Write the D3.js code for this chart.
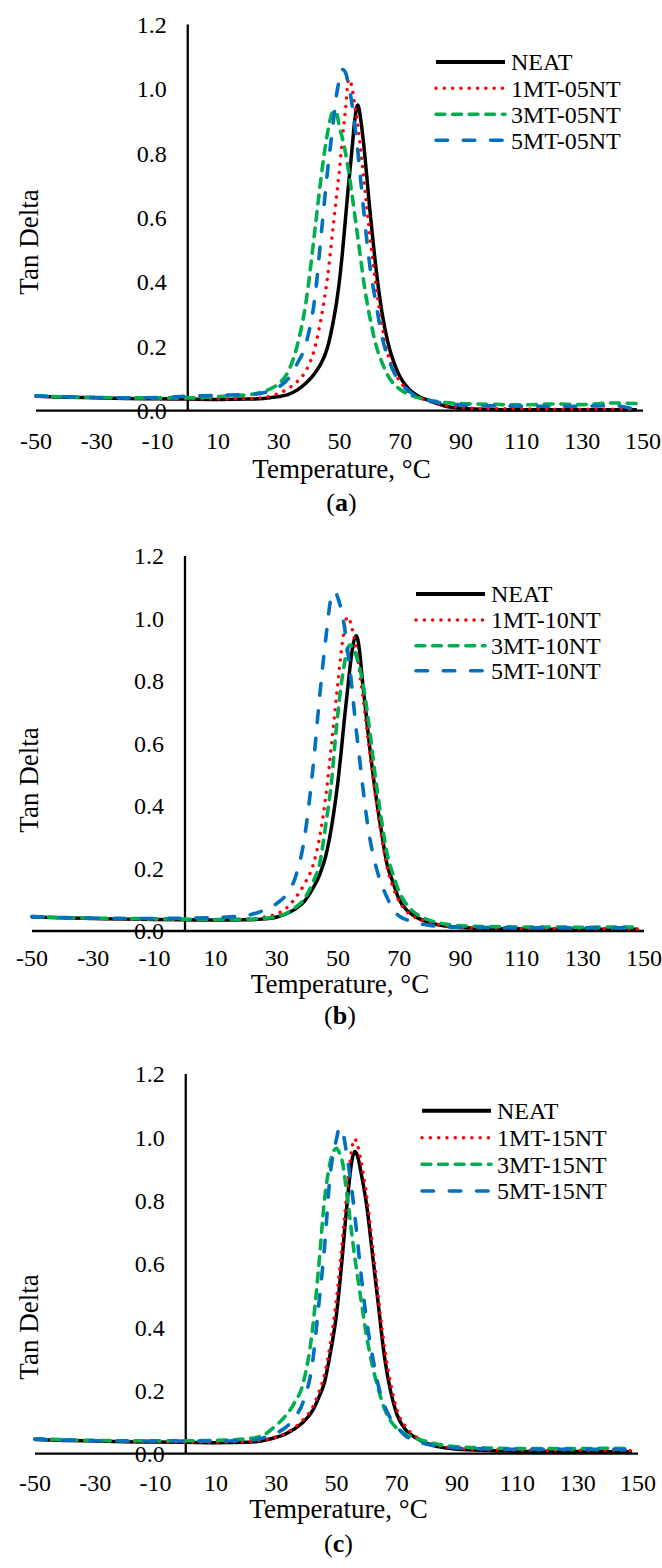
<!DOCTYPE html>
<html>
<head>
<meta charset="utf-8">
<script src="https://cdn.jsdelivr.net/npm/d3@7/dist/d3.min.js"></script>
<style>
  html, body { margin: 0; padding: 0; background: #ffffff; }
  svg { display: block; }
  text { font-family: "Liberation Serif", "Times New Roman", Times, serif; fill: #000; }
</style>
</head>
<body>
<svg id="chart" width="662" height="1568"></svg>
<script>
// ---------------- DATA ----------------
const temperatures = [-50,-40,-30,-20,-10,0,10,20,25,30,33,36,39,42,44,46,48,49,50,51,52,53,54,55,56,57,58,60,62,64,66,68,70,73,76,80,85,90,100,110,120,130,140,148];

const xTicks = [-50,-30,-10,10,30,50,70,90,110,130,150];
const yTicks = [0,0.2,0.4,0.6,0.8,1.0,1.2];

const panelLabels = ["a","b","c"];
const seriesNamesA = ["NEAT","1MT-05NT","3MT-05NT","5MT-05NT"];
const seriesNamesB = ["NEAT","1MT-10NT","3MT-10NT","5MT-10NT"];
const seriesNamesC = ["NEAT","1MT-15NT","3MT-15NT","5MT-15NT"];

// Panel (a)
const neatA  = [.045,.042,.040,.038,.037,.036,.035,.036,.038,.044,.050,.064,.086,.118,.148,.195,.280,.335,.405,.495,.600,.705,.800,.900,.950,.905,.825,.625,.445,.305,.210,.148,.104,.066,.045,.030,.014,.008,.004,.003,.003,.003,.003,.003];
const mt1A   = [.045,.042,.040,.038,.037,.036,.036,.038,.041,.054,.068,.090,.125,.200,.290,.410,.580,.665,.750,.850,.940,1.030,1.010,.950,.890,.810,.720,.545,.390,.265,.175,.122,.090,.058,.042,.028,.016,.010,.006,.006,.005,.005,.005,.004];
const mt3A   = [.046,.043,.041,.040,.040,.040,.044,.050,.060,.085,.120,.200,.340,.570,.730,.860,.930,.925,.880,.845,.800,.745,.680,.610,.540,.470,.400,.290,.205,.150,.108,.082,.066,.050,.040,.032,.025,.022,.020,.018,.021,.019,.024,.022];
const mt5A   = [.046,.043,.041,.040,.041,.045,.048,.050,.056,.074,.098,.145,.210,.360,.550,.740,.900,.980,1.030,1.060,1.050,1.010,.960,.890,.810,.715,.620,.450,.335,.230,.165,.118,.088,.060,.042,.030,.022,.018,.015,.014,.014,.014,.016,.002];

// Panel (b)
const neatB  = [.045,.042,.040,.038,.037,.036,.035,.036,.038,.045,.055,.070,.095,.140,.180,.240,.340,.405,.480,.570,.670,.760,.850,.920,.945,.900,.800,.620,.460,.330,.215,.155,.100,.062,.042,.027,.016,.011,.008,.007,.006,.006,.006,.006];
const mt1B   = [.045,.042,.040,.038,.037,.036,.036,.038,.043,.055,.072,.105,.150,.215,.300,.430,.610,.705,.800,.890,.960,1.005,.990,.950,.900,.830,.760,.600,.450,.315,.205,.140,.095,.057,.040,.026,.016,.012,.009,.008,.008,.007,.007,.006];
const mt3B   = [.046,.043,.041,.040,.039,.038,.037,.038,.040,.046,.056,.075,.103,.160,.215,.340,.490,.600,.700,.785,.850,.900,.915,.905,.880,.845,.800,.670,.510,.370,.250,.180,.125,.078,.052,.034,.022,.017,.014,.013,.013,.012,.013,.012];
const mt5B   = [.046,.043,.041,.040,.040,.041,.043,.050,.063,.088,.115,.170,.295,.540,.750,.935,1.075,1.085,1.065,1.030,.980,.910,.830,.735,.640,.555,.470,.320,.222,.155,.108,.068,.048,.034,.025,.018,.014,.012,.011,.010,.010,.010,.010,.010];

// Panel (c)
const neatC  = [.045,.042,.040,.038,.037,.036,.035,.036,.040,.052,.062,.078,.100,.135,.175,.225,.320,.375,.440,.530,.630,.740,.840,.920,.955,.940,.895,.785,.625,.460,.300,.195,.125,.075,.052,.033,.020,.014,.010,.008,.007,.007,.006,.006];
const mt1C   = [.045,.042,.040,.038,.037,.036,.036,.038,.042,.053,.064,.082,.108,.145,.190,.250,.350,.415,.490,.580,.680,.780,.880,.960,.995,.975,.930,.815,.655,.485,.330,.220,.140,.084,.056,.036,.023,.017,.012,.011,.010,.010,.010,.010];
const mt3C   = [.047,.044,.042,.041,.041,.041,.042,.047,.055,.090,.118,.160,.225,.390,.580,.800,.925,.955,.965,.950,.920,.855,.780,.700,.625,.560,.495,.370,.275,.200,.140,.103,.080,.062,.050,.038,.027,.022,.018,.016,.016,.016,.017,.016];
const mt5C   = [.046,.043,.041,.040,.040,.040,.040,.042,.048,.065,.082,.112,.165,.285,.460,.650,.890,.950,.995,1.030,1.020,.970,.910,.840,.760,.670,.580,.420,.305,.210,.150,.110,.085,.056,.042,.030,.022,.018,.015,.014,.014,.014,.014,.012];

// ---------------- STYLES / LAYOUT ----------------
const seriesStyles = [
  { color: "#000000", width: 3.5, dash: null,        cap: "butt"  },
  { color: "#FF0000", width: 3.4, dash: "0.1 8.2",   cap: "round" },
  { color: "#00B050", width: 3.6, dash: "8.8 7.8",   cap: "round" },
  { color: "#0070C0", width: 3.6, dash: "11.5 15.8", cap: "round" }
];

const panels = [
  { label: panelLabels[0], names: seriesNamesA, data: [neatA, mt1A, mt3A, mt5A],
    xr: [36, 643], yr: [410.7, 24.5], legX: 436, legRows: [62, 88.3, 114.3, 140.3], titleY: 242,
    offs: [29.5, 58, 91] },
  { label: panelLabels[1], names: seriesNamesB, data: [neatB, mt1B, mt3B, mt5B],
    xr: [32, 644], yr: [931, 556], legX: 416, legRows: [594, 620, 645.7, 670.7], titleY: 780,
    offs: [27, 53, 84] },
  { label: panelLabels[2], names: seriesNamesC, data: [neatC, mt1C, mt3C, mt5C],
    xr: [35, 638], yr: [1453.7, 1074], legX: 422, legRows: [1110.7, 1137.7, 1164.3, 1191], titleY: 1327,
    offs: [28.5, 55, 89] }
];

const svg = d3.select("#chart");
const fmt = d3.format(".1f");

panels.forEach(p => {
  const x = d3.scaleLinear().domain([-50, 150]).range(p.xr);
  const y = d3.scaleLinear().domain([0, 1.2]).range(p.yr);
  const g = svg.append("g");
  const x0 = x(0);

  // y tick labels
  g.selectAll(".ytl").data(yTicks).enter().append("text")
    .attr("x", x0 - 21).attr("y", d => y(d)).attr("dy", "0.35em")
    .attr("text-anchor", "end").style("font-size", "24px").text(d => fmt(d));

  // x tick labels
  g.selectAll(".xtl").data(xTicks).enter().append("text")
    .attr("x", d => x(d)).attr("y", y(0) + p.offs[0]).attr("dy", "0.35em")
    .attr("text-anchor", "middle").style("font-size", "24px").text(d => d);

  // axis lines
  g.append("line").attr("x1", p.xr[0]).attr("x2", p.xr[1])
    .attr("y1", y(0)).attr("y2", y(0)).attr("stroke", "#000").attr("stroke-width", 2.3);
  g.append("line").attr("x1", x0).attr("x2", x0)
    .attr("y1", y(0)).attr("y2", y(1.2)).attr("stroke", "#000").attr("stroke-width", 2.3);

  // series
  const line = d3.line().x(d => x(d[0])).y(d => y(d[1])).curve(d3.curveMonotoneX);
  p.data.forEach((vals, i) => {
    const st = seriesStyles[i];
    const pts = temperatures.map((t, k) => [t, vals[k]]).filter(d => d[1] !== undefined);
    g.append("path").datum(pts).attr("d", line)
      .attr("fill", "none").attr("stroke", st.color).attr("stroke-width", st.width)
      .attr("stroke-linecap", st.cap).attr("stroke-linejoin", "round")
      .attr("stroke-dasharray", st.dash);
  });

  // legend
  p.names.forEach((name, i) => {
    const st = seriesStyles[i];
    const ry = p.legRows[i];
    g.append("line").attr("x1", p.legX).attr("x2", p.legX + 69)
      .attr("y1", ry).attr("y2", ry)
      .attr("stroke", st.color).attr("stroke-width", i === 0 ? 4 : st.width)
      .attr("stroke-linecap", st.cap).attr("stroke-dasharray", st.dash);
    g.append("text").attr("x", p.legX + 75).attr("y", ry).attr("dy", "0.35em")
      .style("font-size", "24px").text(name);
  });

  // axis titles and caption
  const midX = (p.xr[0] + p.xr[1]) / 2;
  g.append("text").attr("transform", `translate(29,${p.titleY}) rotate(-90)`)
    .attr("dy", "0.35em").attr("text-anchor", "middle").style("font-size", "27px").text("Tan Delta");
  g.append("text").attr("x", midX + 2).attr("y", y(0) + p.offs[1]).attr("dy", "0.35em")
    .attr("text-anchor", "middle").style("font-size", "27px").text("Temperature, °C");
  const cap = g.append("text").attr("x", midX + 2).attr("y", y(0) + p.offs[2]).attr("dy", "0.35em")
    .attr("text-anchor", "middle").style("font-size", "26px");
  cap.append("tspan").text("(");
  cap.append("tspan").style("font-weight", "bold").text(p.label);
  cap.append("tspan").text(")");
});
</script>
</body>
</html>
